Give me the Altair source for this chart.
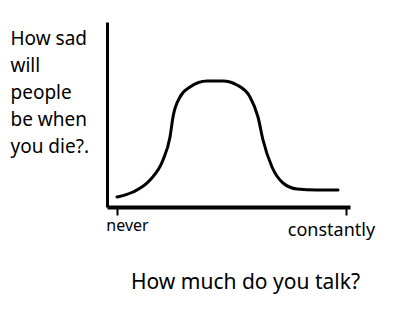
import altair as alt
import pandas as pd

# curve (x: talk amount, y: sadness)
talk = [10, 26, 43, 56, 63, 66, 73, 83, 100, 116, 130, 143, 151, 156, 165, 176, 190, 210, 231]
sad = [10, 15, 27, 47, 70, 90, 110, 120, 126, 126, 122, 110, 90, 67, 40, 24, 18, 17, 17]
tick_values = [10, 239]
tick_labels = ["never", "constantly"]
y_title = ["How sad", "will", "people", "be when", "you die?."]
x_title = "How much do you talk?"

df = pd.DataFrame({"talk": talk, "sad": sad})
FONT = "Noto Sans"

label_expr = f"datum.value < 100 ? '{tick_labels[0]}' : '{tick_labels[1]}'"

chart = alt.Chart(df).mark_line(
    color="black", strokeWidth=3, interpolate="monotone", strokeCap="round"
).encode(
    x=alt.X("talk:Q", scale=alt.Scale(domain=[0, 243], nice=False, zero=False),
            axis=alt.Axis(values=tick_values, labelExpr=label_expr, grid=False,
                          domainColor="black", domainWidth=4, tickColor="black",
                          tickWidth=2, tickSize=8, labelFont=FONT,
                          labelFontSize={"expr": "datum.value < 100 ? 16 : 18"},
                          labelColor="black",
                          labelPadding={"expr": "datum.value < 100 ? 2 : 6"},
                          labelOffset={"expr": "datum.value < 100 ? 10 : -15"},
                          title=x_title, titleFont=FONT, titleFontSize=21,
                          titleFontWeight="normal", titleColor="black",
                          titleX=138, titleY=64)),
    y=alt.Y("sad:Q", scale=alt.Scale(domain=[0, 185], nice=False),
            axis=alt.Axis(labels=False, ticks=False, grid=False, domainColor="black",
                          domainWidth=3, title=y_title, titleAngle=0, titleAlign="left",
                          titleBaseline="top", titleX=-97, titleY=7, titleFont=FONT,
                          titleFontSize=19, titleFontWeight="normal", titleColor="black",
                          titleLineHeight=27)),
).properties(
    width=243, height=185,
    autosize=alt.AutoSizeParams(type="none"),
    padding={"left": 107, "top": 22, "right": 50, "bottom": 107},
    background="white",
).configure_view(stroke=None)

chart.save("out.html", embed_options={"renderer": "svg", "actions": False})
